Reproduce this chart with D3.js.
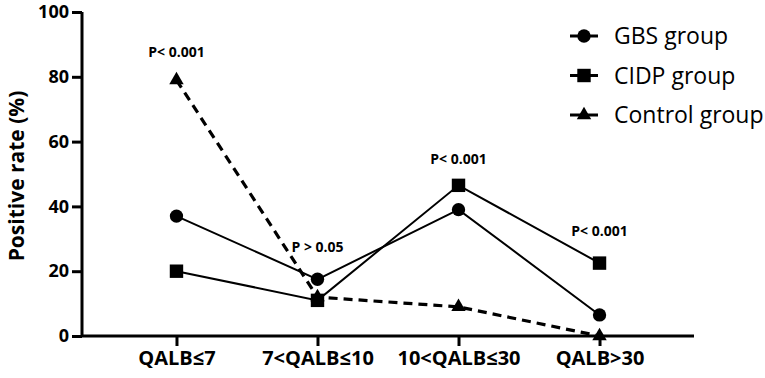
<!DOCTYPE html>
<html>
<head>
<meta charset="utf-8">
<script src="https://cdn.jsdelivr.net/npm/d3@7"></script>
<style>
  body { margin: 0; background: #fff; }
  text { font-family: "Open Sans", "Noto Sans", sans-serif; }
</style>
</head>
<body>
<div id="chart"></div>
<script>
// categories and series
const categories = ["QALB\u22647", "7<QALB\u226410", "10<QALB\u226430", "QALB>30"];
const gbsValues = [37, 17.5, 39, 6.5];
const cidpValues = [20, 11, 46.5, 22.5];
const controlValues = [79, 12, 9, 0];
const pLabels = ["P< 0.001", "P > 0.05", "P< 0.001", "P< 0.001"];
const pLabelY = [86, 26, 53, 31];
const yTicks = [0, 20, 40, 60, 80, 100];

const width = 765, height = 378;
const margin = { left: 82, right: 71, top: 12, bottom: 42 };

const svg = d3.select("#chart").append("svg")
    .attr("width", width)
    .attr("height", height);

const x = d3.scalePoint()
    .domain(categories)
    .range([margin.left, width - margin.right])
    .padding(0.67);

const y = d3.scaleLinear()
    .domain([0, 100])
    .range([height - margin.bottom, margin.top]);

// y axis
const yAxis = svg.append("g")
    .attr("transform", `translate(${margin.left},0)`)
    .call(d3.axisLeft(y).tickValues(yTicks).tickSize(10).tickPadding(3));
yAxis.select(".domain").attr("stroke-width", 3).attr("d", `M0,${margin.top}V${height - margin.bottom}`);
yAxis.selectAll(".tick line").attr("stroke-width", 3);
yAxis.selectAll("text")
    .style("font-size", "18px")
    .style("font-weight", "bold")
    .attr("fill", "#000");

// x axis
const xAxis = svg.append("g")
    .attr("transform", `translate(0,${height - margin.bottom})`)
    .call(d3.axisBottom(x).tickSize(10).tickPadding(5));
xAxis.select(".domain").attr("stroke-width", 3).attr("d", `M${margin.left},0H${width - margin.right}`);
xAxis.selectAll(".tick line").attr("stroke-width", 3);
xAxis.selectAll("text")
    .style("font-size", "20px")
    .style("font-weight", "bold")
    .attr("fill", "#000");

// y label
svg.append("text")
    .attr("transform", `translate(24,${(y(0) + y(100)) / 2 + 2}) rotate(-90)`)
    .attr("text-anchor", "middle")
    .style("font-size", "21px")
    .style("font-weight", "bold")
    .text("Positive rate (%)");

const series = [
    { name: "GBS group", values: gbsValues, symbol: d3.symbolCircle, size: 140, dash: null, width: 2 },
    { name: "CIDP group", values: cidpValues, symbol: d3.symbolSquare, size: 180, dash: null, width: 2 },
    { name: "Control group", values: controlValues, symbol: d3.symbolTriangle, size: 90, dash: "9,6", width: 3.2 }
];

const line = d3.line()
    .x((d, i) => x(categories[i]))
    .y(d => y(d));

series.forEach(s => {
    svg.append("path")
        .datum(s.values)
        .attr("d", line)
        .attr("fill", "none")
        .attr("stroke", "#000")
        .attr("stroke-width", s.width)
        .attr("stroke-dasharray", s.dash);

    svg.selectAll(null)
        .data(s.values)
        .enter()
        .append("path")
        .attr("d", d3.symbol().type(s.symbol).size(s.size))
        .attr("transform", (d, i) => `translate(${x(categories[i])},${y(d)})`)
        .attr("fill", "#000");
});

// p-value annotations
svg.selectAll(".plabel")
    .data(pLabels)
    .enter()
    .append("text")
    .attr("class", "plabel")
    .attr("x", (d, i) => x(categories[i]))
    .attr("y", (d, i) => y(pLabelY[i]))
    .attr("text-anchor", "middle")
    .style("font-size", "14px")
    .style("font-weight", "bold")
    .text(d => d);

// legend
const legend = svg.append("g").attr("transform", "translate(570,36)");
series.forEach((s, i) => {
    const g = legend.append("g").attr("transform", `translate(0,${i * 39.5})`);
    g.append("line")
        .attr("x1", 0).attr("x2", 28)
        .attr("stroke", "#000")
        .attr("stroke-width", 3);
    g.append("path")
        .attr("d", d3.symbol().type(s.symbol).size(s.size))
        .attr("transform", "translate(14,0)");
    g.append("text")
        .attr("x", 44)
        .attr("dy", "0.35em")
        .style("font-size", "23px")
        .text(s.name);
});
</script>
</body>
</html>
